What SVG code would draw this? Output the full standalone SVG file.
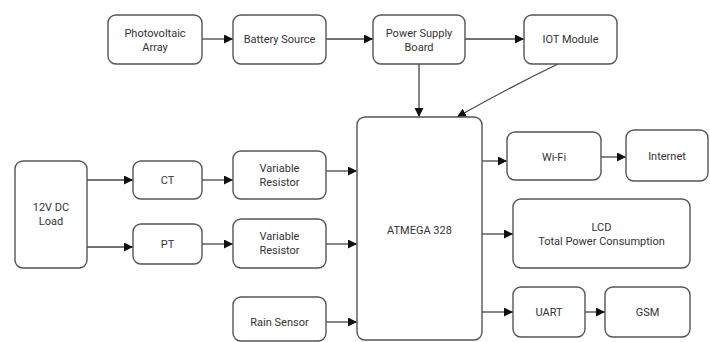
<svg xmlns="http://www.w3.org/2000/svg" width="710" height="342" viewBox="0 0 710 342">
<defs>
<style>
.n rect{fill:#fff;stroke:#555;stroke-width:1.4}
.n text{font-family:Roboto,"Liberation Sans",sans-serif;font-size:11px;fill:#333;text-anchor:middle}
#edges path{fill:none;stroke:#444;stroke-width:1.3}
</style>
<marker id="ah" viewBox="0 0 10 10" refX="10" refY="5" markerWidth="9" markerHeight="9" markerUnits="userSpaceOnUse" orient="auto"><path d="M0,0 L10,5 L0,10 z" fill="#111"/></marker>
</defs>
<rect width="710" height="342" fill="#fff"/>
<g id="edges">
<path d="M202,39 H233" marker-end="url(#ah)"/>
<path d="M326,39 H373" marker-end="url(#ah)"/>
<path d="M465,39 H524" marker-end="url(#ah)"/>
<path d="M419,64 V117" marker-end="url(#ah)"/>
<path d="M558,64 Q512,86 457,117" marker-end="url(#ah)"/>
<path d="M87,180 H133" marker-end="url(#ah)"/>
<path d="M87,247 H133" marker-end="url(#ah)"/>
<path d="M202,180 H233" marker-end="url(#ah)"/>
<path d="M202,244 H233" marker-end="url(#ah)"/>
<path d="M326,171 H357" marker-end="url(#ah)"/>
<path d="M326,244 H357" marker-end="url(#ah)"/>
<path d="M326,322 H357" marker-end="url(#ah)"/>
<path d="M482,161 H507" marker-end="url(#ah)"/>
<path d="M601,157 H626" marker-end="url(#ah)"/>
<path d="M482,234 H513" marker-end="url(#ah)"/>
<path d="M482,312 H513" marker-end="url(#ah)"/>
<path d="M585,312 H605" marker-end="url(#ah)"/>
</g>
<g id="pv" class="n"><rect x="108" y="15" width="94" height="49" rx="8"/><text x="155" y="37">Photovoltaic</text><text x="155" y="51">Array</text></g>
<g id="battery" class="n"><rect x="233" y="15" width="93" height="49" rx="8"/><text x="279.5" y="43">Battery Source</text></g>
<g id="psb" class="n"><rect x="373" y="15" width="92" height="49" rx="8"/><text x="419" y="37">Power Supply</text><text x="419" y="51">Board</text></g>
<g id="iot" class="n"><rect x="524" y="15" width="93" height="49" rx="8"/><text x="570.5" y="43">IOT Module</text></g>
<g id="load" class="n"><rect x="15" y="161" width="72" height="107" rx="8"/><text x="51" y="211">12V DC</text><text x="51" y="225">Load</text></g>
<g id="ct" class="n"><rect x="133" y="161" width="69" height="38" rx="8"/><text x="167.5" y="184">CT</text></g>
<g id="pt" class="n"><rect x="133" y="224" width="69" height="40" rx="8"/><text x="167.5" y="248">PT</text></g>
<g id="vr1" class="n"><rect x="233" y="151" width="93" height="48" rx="8"/><text x="279.5" y="172">Variable</text><text x="279.5" y="186">Resistor</text></g>
<g id="vr2" class="n"><rect x="233" y="219" width="93" height="49" rx="8"/><text x="279.5" y="240">Variable</text><text x="279.5" y="254">Resistor</text></g>
<g id="rain" class="n"><rect x="233" y="297" width="93" height="44" rx="8"/><text x="279.5" y="326">Rain Sensor</text></g>
<g id="atmega" class="n"><rect x="357" y="117" width="125" height="223" rx="8"/><text x="419.5" y="234">ATMEGA 328</text></g>
<g id="wifi" class="n"><rect x="507" y="132" width="94" height="48" rx="8"/><text x="554" y="161">Wi-Fi</text></g>
<g id="internet" class="n"><rect x="626" y="130" width="82" height="51" rx="8"/><text x="667" y="160">Internet</text></g>
<g id="lcd" class="n"><rect x="513" y="199" width="177" height="69" rx="8"/><text x="601.5" y="231">LCD</text><text x="601.5" y="245">Total Power Consumption</text></g>
<g id="uart" class="n"><rect x="513" y="287" width="72" height="50" rx="8"/><text x="549" y="316">UART</text></g>
<g id="gsm" class="n"><rect x="605" y="287" width="85" height="50" rx="8"/><text x="647.5" y="316">GSM</text></g>
</svg>
